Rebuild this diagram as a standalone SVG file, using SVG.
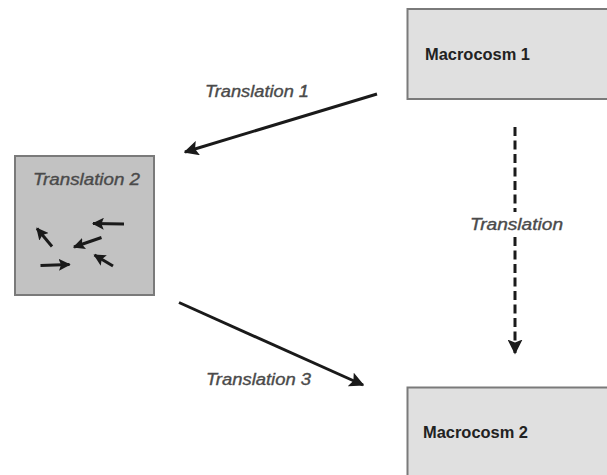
<svg xmlns="http://www.w3.org/2000/svg" width="607" height="475" viewBox="0 0 607 475">
<style>
.box{stroke:#7a7a7a;stroke-width:2}
.macro{fill:#e0e0e0}
.t2{fill:#c2c2c2}
.lbl{font-family:"Liberation Sans",Arial,sans-serif;font-style:italic;font-size:16px;fill:#4a4a4a;stroke:#4a4a4a;stroke-width:0.35}
.bold{font-family:"Liberation Sans",Arial,sans-serif;font-weight:bold;font-size:16px;fill:#222}
.conn{stroke:#1a1a1a;stroke-width:3;fill:none}
.small{stroke:#1a1a1a;stroke-width:3;fill:none}
</style>
<defs>
<marker id="ah" viewBox="0 0 10 10" refX="9" refY="5" markerWidth="5" markerHeight="5" orient="auto" markerUnits="strokeWidth">
<path d="M0,0 L10,5 L0,10 L2,5 Z" fill="#1a1a1a"/>
</marker>
<marker id="ahs" viewBox="0 0 10 10" refX="9" refY="5" markerWidth="4" markerHeight="4" orient="auto" markerUnits="strokeWidth">
<path d="M0,0 L10,5 L0,10 L2,5 Z" fill="#1a1a1a"/>
</marker>
</defs>
<rect width="607" height="475" fill="#fff"/>
<g id="macrocosm1">
<rect class="box macro" x="407.5" y="9" width="205" height="90"/>
<text class="bold" x="425" y="60" textLength="105" lengthAdjust="spacingAndGlyphs">Macrocosm 1</text>
</g>
<g id="macrocosm2">
<rect class="box macro" x="407.5" y="387.5" width="205" height="95"/>
<text class="bold" x="423" y="438" textLength="105" lengthAdjust="spacingAndGlyphs">Macrocosm 2</text>
</g>
<g id="translation2">
<rect class="box t2" x="15" y="156" width="139" height="139"/>
<text class="lbl" x="33" y="185" textLength="107" lengthAdjust="spacingAndGlyphs">Translation 2</text>
<path class="small" marker-end="url(#ahs)" d="M124,224 L93,223.5"/>
<path class="small" marker-end="url(#ahs)" d="M101.5,237.5 L74,247"/>
<path class="small" marker-end="url(#ahs)" d="M52,246.5 L37,228.5"/>
<path class="small" marker-end="url(#ahs)" d="M40.5,265.5 L69.5,264.5"/>
<path class="small" marker-end="url(#ahs)" d="M113,266 L94.5,255"/>
</g>
<g id="connectors">
<path class="conn" marker-end="url(#ah)" d="M377,94 L185,152"/>
<path class="conn" marker-end="url(#ah)" d="M179,302.5 L363,385"/>
<path class="conn" stroke-dasharray="9,4.5" d="M515,127 L515,212"/>
<path class="conn" stroke-dasharray="9,4.5" marker-end="url(#ah)" d="M515,237 L515,353"/>
</g>
<g id="labels">
<text class="lbl" x="205" y="97" textLength="104" lengthAdjust="spacingAndGlyphs">Translation 1</text>
<text class="lbl" x="206" y="385" textLength="105" lengthAdjust="spacingAndGlyphs">Translation 3</text>
<text class="lbl" x="470" y="230" textLength="93" lengthAdjust="spacingAndGlyphs">Translation</text>
</g>
</svg>
